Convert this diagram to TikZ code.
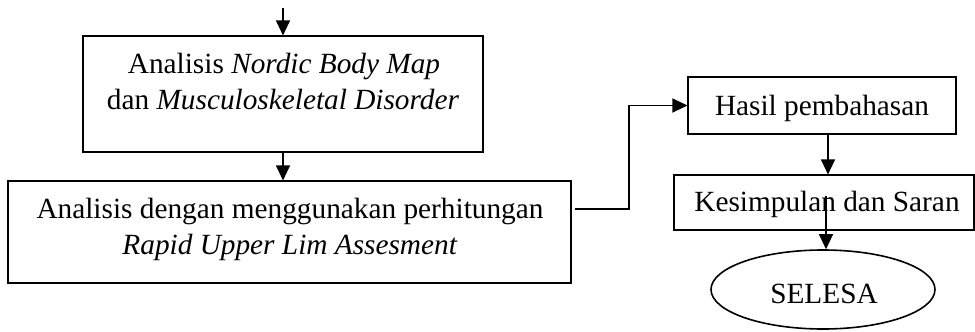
\documentclass[tikz,border=0pt]{standalone}
\usepackage{fontspec}
\setmainfont{Liberation Serif}
\usetikzlibrary{arrows.meta,shapes.geometric}
\begin{document}
\begin{tikzpicture}[x=1pt,y=-1pt,
  box/.style={draw=black,line width=1.1pt,minimum width=#1,inner sep=0pt},
  lbl/.style={anchor=base,inner sep=0pt,font=\fontsize{29.3}{36}\selectfont},
  conn/.style={draw=black,line width=1.1pt},
  arr/.style={conn,-{Triangle[length=15pt,width=14pt]}}]
\useasboundingbox (0,0) rectangle (975,332);
% boxes
\node[box=400pt,minimum height=116pt] (b1) at (283,94) {};
\node[box=563pt,minimum height=102pt] (b2) at (289.5,232) {};
\node[box=268pt,minimum height=57pt] (hasil) at (822,105.5) {};
\node[box=300pt,minimum height=55pt] (kes) at (824,202.5) {};
\node[draw=black,line width=1.6pt,ellipse,minimum width=224pt,minimum height=79pt,inner sep=0pt] (sel) at (823,289.5) {};
% texts
\node[lbl] (t1a) at (284,73) {Analisis \textit{Nordic Body Map}};
\node[lbl] (t1b) at (283,109) {dan \textit{Musculoskeletal Disorder}};
\node[lbl] (t2a) at (290,218) {Analisis dengan menggunakan perhitungan};
\node[lbl] (t2b) at (290,254) {\textit{Rapid Upper Lim Assesment}};
\node[lbl] (t3) at (822,115) {Hasil pembahasan};
\node[lbl] (t4) at (827,211) {Kesimpulan dan Saran};
\node[lbl] (t5) at (824,303) {SELESA};
% connectors
\coordinate (start) at (283,8);
\draw[arr] (start) -- (b1.north);
\draw[arr] (b1.south) -- (b1.south |- b2.north);
\coordinate (c1) at (575,209);
\coordinate (bend) at (629,209);
\draw[arr] (c1) -- (bend) |- (hasil.west);
\coordinate (h1) at (828,134);
\draw[arr] (h1) -- (h1 |- kes.north);
\coordinate (k1) at (826,196);
\draw[arr] (k1) -- (k1 |- sel.north);
\end{tikzpicture}
\end{document}
